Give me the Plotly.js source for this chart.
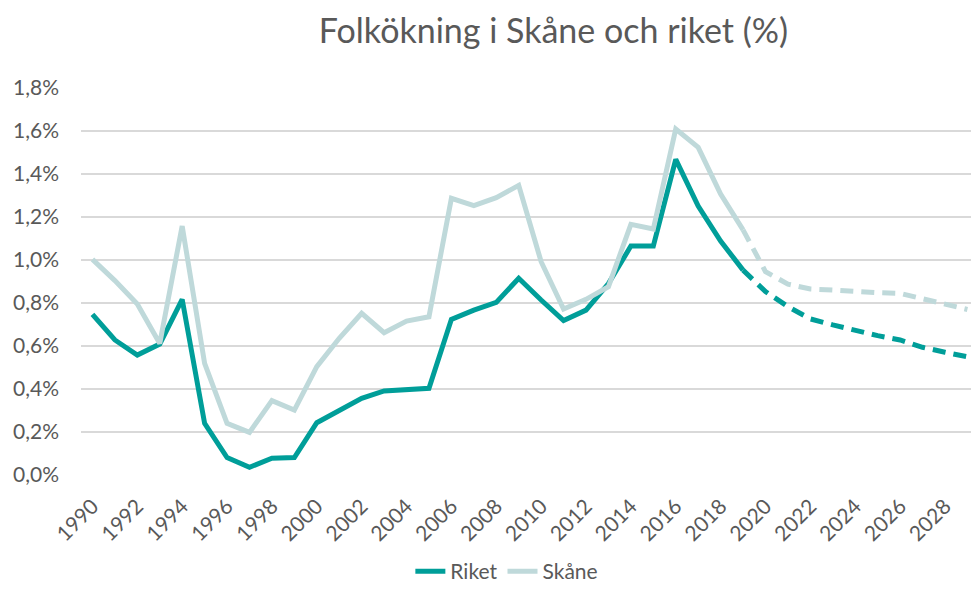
<!DOCTYPE html>
<html>
<head>
<meta charset="utf-8">
<script src="https://cdn.plot.ly/plotly-3.0.1.min.js"></script>
<style>html,body{margin:0;padding:0;background:#fff;}#chart{width:971px;height:592px;}</style>
</head>
<body>
<div id="chart"></div>
<script>
// Years (categories)
const yearsHist = [1990,1991,1992,1993,1994,1995,1996,1997,1998,1999,2000,2001,2002,2003,2004,2005,2006,2007,2008,2009,2010,2011,2012,2013,2014,2015,2016,2017,2018,2019];
const yearsProj = [2019,2020,2021,2022,2023,2024,2025,2026,2027,2028,2029];

// Riket (%) - historical
const riketHist = [0.747,0.628,0.558,0.609,0.817,0.240,0.081,0.036,0.078,0.081,0.243,0.299,0.357,0.391,0.399,0.403,0.724,0.767,0.803,0.915,0.814,0.718,0.767,0.89,1.065,1.065,1.468,1.251,1.088,0.953];
// Riket (%) - projection
const riketProj = [0.953,0.853,0.783,0.726,0.698,0.671,0.648,0.628,0.594,0.571,0.550];

// Skåne (%) - historical
const skaneHist = [1.003,0.904,0.795,0.612,1.158,0.519,0.240,0.198,0.346,0.302,0.504,0.636,0.752,0.662,0.716,0.736,1.287,1.253,1.290,1.347,0.992,0.772,0.817,0.876,1.166,1.144,1.609,1.524,1.307,1.140];
// Skåne (%) - projection
const skaneProj = [1.140,0.946,0.888,0.865,0.860,0.853,0.848,0.845,0.822,0.795,0.770];

const seriesNames = ["Riket","Skåne"];
const yTickVals = [0,0.2,0.4,0.6,0.8,1.0,1.2,1.4,1.6,1.8];
const yTickLabels = ["0,0%","0,2%","0,4%","0,6%","0,8%","1,0%","1,2%","1,4%","1,6%","1,8%"];
const titleText = "Folkökning i Skåne och riket (%)";

const cRiket = "#009E99";
const cSkane = "#BFD9DA";
const txt = "#595959";
const font = "Lato, 'Open Sans', sans-serif";

const traces = [
  {x: yearsHist, y: riketHist, name: seriesNames[0], type: "scatter", mode: "lines",
   line: {color: cRiket, width: 5}, hoverinfo: "skip"},
  {x: yearsProj, y: riketProj, name: seriesNames[0] + " prognos", type: "scatter", mode: "lines",
   line: {color: cRiket, width: 5, dash: "13px,8px"}, showlegend: false, hoverinfo: "skip"},
  {x: yearsHist, y: skaneHist, name: seriesNames[1], type: "scatter", mode: "lines",
   line: {color: cSkane, width: 5}, hoverinfo: "skip"},
  {x: yearsProj, y: skaneProj, name: seriesNames[1] + " prognos", type: "scatter", mode: "lines",
   line: {color: cSkane, width: 5, dash: "13px,8px"}, showlegend: false, hoverinfo: "skip"}
];

const layout = {
  width: 971, height: 592,
  margin: {l: 81, r: 0, t: 88, b: 117},
  paper_bgcolor: "#fff", plot_bgcolor: "#fff",
  font: {family: font, color: txt, size: 21},
  title: {text: titleText, font: {family: font, size: 34, color: txt},
          x: 0.570, xref: "container", xanchor: "center",
          y: 0.947, yref: "container", yanchor: "middle"},
  xaxis: {range: [1989.49, 2029.16], tick0: 1990, dtick: 2, tickangle: -45,
          showgrid: false, zeroline: false, showline: false, ticks: "",
          ticklabelstandoff: 14,
          tickfont: {family: font, size: 21, color: txt}, fixedrange: true},
  yaxis: {range: [0, 1.8], tickvals: yTickVals, ticktext: yTickLabels,
          showgrid: true, gridcolor: "#D9D9D9", gridwidth: 1.5,
          zeroline: false, showline: false, ticks: "", ticklabelstandoff: 21,
          tickfont: {family: font, size: 21, color: txt}, fixedrange: true},
  legend: {orientation: "h", xref: "container", yref: "container",
           x: 0.522, xanchor: "center", y: 0.0, yanchor: "bottom",
           font: {family: font, size: 21, color: txt}, itemwidth: 30,
           tracegroupgap: 0, traceorder: "normal"},
  showlegend: true
};

Plotly.newPlot("chart", traces, layout, {displayModeBar: false, staticPlot: true});
</script>
</body>
</html>
